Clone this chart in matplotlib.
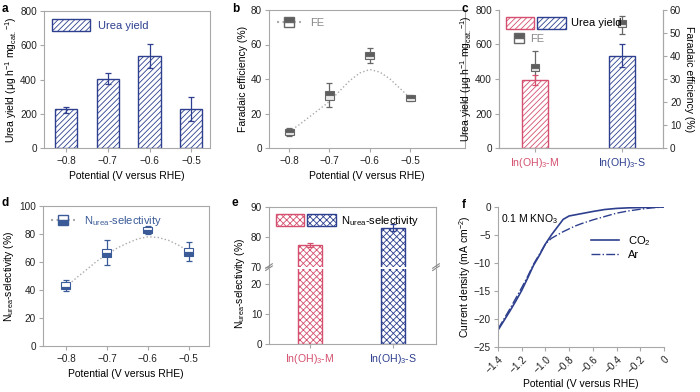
import numpy as np
import matplotlib
matplotlib.use("Agg")
import matplotlib.pyplot as plt
from matplotlib.lines import Line2D
from matplotlib.patches import Patch
from matplotlib.legend_handler import HandlerTuple

plt.rcParams["font.family"] = ["Liberation Sans", "DejaVu Sans"]
plt.rcParams["font.size"] = 7.5
plt.rcParams["xtick.labelsize"] = 7.2
plt.rcParams["ytick.labelsize"] = 7.2
plt.rcParams["mathtext.fontset"] = "custom"
plt.rcParams["mathtext.rm"] = "Liberation Sans"
plt.rcParams["mathtext.default"] = "regular"
plt.rcParams["hatch.linewidth"] = 0.6
plt.rcParams["axes.edgecolor"] = "#a8a8a8"
plt.rcParams["xtick.color"] = "#a8a8a8"
plt.rcParams["ytick.color"] = "#a8a8a8"
plt.rcParams["xtick.labelcolor"] = "#222222"
plt.rcParams["ytick.labelcolor"] = "#222222"
plt.rcParams["xtick.major.size"] = 3
plt.rcParams["ytick.major.size"] = 3
plt.rcParams["xtick.major.pad"] = 2.5
plt.rcParams["ytick.major.pad"] = 2

BLUE = "#2d3f8e"
RED = "#d4506e"
GRAY = "#666666"
DBLUE = "#3b5b98"

# ---- data ----
potentials = [-0.8, -0.7, -0.6, -0.5]
pot_labels = ["\u22120.8", "\u22120.7", "\u22120.6", "\u22120.5"]

# a: urea yield
urea_yield = [225, 405, 535, 228]
urea_err_lo = [20, 30, 70, 73]
urea_err_hi = [17, 35, 70, 72]

# b: Faradaic efficiency box stats
fe_q1 = [7.5, 28, 51.5, 27.2]
fe_med = [9.5, 30.5, 53.5, 29]
fe_q3 = [11.2, 33, 55.5, 30.6]
fe_lo = [7.2, 23.5, 49, 27]
fe_hi = [11.6, 37.5, 57.8, 31]
fe_fit_x = [-0.8, -0.775, -0.75, -0.725, -0.7, -0.675, -0.65, -0.625, -0.6, -0.575, -0.55, -0.525, -0.5]
fe_fit_y = [9.5, 13.5, 18, 22.5, 27, 33, 39, 43.5, 45.5, 44, 40, 34.5, 29]

# c: sample comparison
samples = ["In(OH)$_3$-M", "In(OH)$_3$-S"]
sample_colors = [RED, BLUE]
sample_yield = [395, 535]
sample_yield_err = [30, 68]
samp_fe_q1 = [33.5, 52.5]
samp_fe_med = [35, 54]
samp_fe_q3 = [36.5, 55.5]
samp_fe_lo = [27, 49.5]
samp_fe_hi = [42, 57.5]

# d: N_urea selectivity box stats
sel_q1 = [40.5, 63.5, 80.5, 64.5]
sel_med = [42.5, 66.5, 82.8, 67.3]
sel_q3 = [45.5, 69.5, 85.3, 70.3]
sel_lo = [39.4, 57.8, 79.7, 60.6]
sel_hi = [47, 75.7, 85.7, 74.5]
sel_fit_x = [-0.8, -0.775, -0.75, -0.725, -0.7, -0.675, -0.65, -0.625, -0.6, -0.575, -0.55, -0.525, -0.5]
sel_fit_y = [42.5, 48.5, 54.5, 60.5, 65.5, 70, 73.5, 76.5, 78, 77.5, 75.5, 72, 67.5]

# e: selectivity of samples
samp_sel = [77.3, 83.1]
samp_sel_err = [0.7, 1.2]

# f: LSV
lsv_x = [-1.4, -1.35, -1.3, -1.25, -1.2, -1.15, -1.1, -1.05, -1.0, -0.95, -0.9, -0.85,
         -0.8, -0.75, -0.7, -0.6, -0.5, -0.4, -0.3, -0.2, -0.1, 0.0]
lsv_co2 = [-22.0, -20.3, -18.6, -16.8, -14.9, -12.7, -10.4, -8.6, -6.6, -5.0, -3.6, -2.2,
           -1.6, -1.4, -1.2, -0.8, -0.45, -0.25, -0.15, -0.1, -0.05, 0.0]
lsv_ar = [-21.8, -20.0, -18.2, -16.3, -14.4, -12.4, -10.2, -8.4, -6.6, -5.6, -5.0, -4.4,
          -3.9, -3.4, -3.0, -2.3, -1.7, -1.1, -0.7, -0.4, -0.15, 0.0]


def add_boxes(ax, xs, q1, med, q3, lo, hi, w, top_col, bot_col, edge, z=3):
    xs = np.asarray(xs, dtype=float)
    q1, med, q3 = map(np.asarray, (q1, med, q3))
    ax.errorbar(xs, med, yerr=[med - np.asarray(lo), np.asarray(hi) - med], fmt="none",
                ecolor=edge, elinewidth=0.9, capsize=2, capthick=0.9, zorder=z)
    ax.bar(xs, q3 - med, bottom=med, width=w, color=top_col, edgecolor=edge, linewidth=0.8, zorder=z + 1)
    ax.bar(xs, med - q1, bottom=q1, width=w, color=bot_col, edgecolor=edge, linewidth=0.8, zorder=z + 1)


fig = plt.figure(figsize=(7, 3.92), dpi=100)
W, H = 700, 392


def add_ax(x0, y0, x1, y1):
    return fig.add_axes([x0 / W, 1 - y1 / H, (x1 - x0) / W, (y1 - y0) / H])


# ---- a ----
ax = add_ax(44, 11, 210, 148)
ax.bar(potentials, urea_yield, width=0.053, facecolor="white", edgecolor=BLUE, hatch="//////",
       linewidth=1.0, label="Urea yield", zorder=2)
ax.errorbar(potentials, urea_yield, yerr=[urea_err_lo, urea_err_hi], fmt="none", ecolor=BLUE,
            elinewidth=0.9, capsize=2, capthick=0.9, zorder=3)
ax.set_xlim(-0.853, -0.455)
ax.set_ylim(0, 800)
ax.set_xticks(potentials)
ax.set_xticklabels(pot_labels)
ax.set_yticks([0, 200, 400, 600, 800])
ax.set_xlabel("Potential (V versus RHE)", labelpad=4)
ax.set_ylabel("Urea yield (\u03bcg h$^{-1}$ mg$_{cat.}$$^{-1}$)", labelpad=1)
leg = ax.legend(loc="upper left", frameon=False, handlelength=3.4, handleheight=1.3,
                borderaxespad=0.3, fontsize=8)
for t in leg.get_texts():
    t.set_color(BLUE)

# ---- b ----
ax = add_ax(269, 10, 465, 148)
ax.plot(fe_fit_x, fe_fit_y, ls=":", color="#aaaaaa", lw=1.0, zorder=1)
add_boxes(ax, potentials, fe_q1, fe_med, fe_q3, fe_lo, fe_hi, 0.022, "#5e5e5e", "#e8e8e8", GRAY)
ax.set_xlim(-0.85, -0.364)
ax.set_ylim(0, 80)
ax.set_xticks(potentials)
ax.set_xticklabels(pot_labels)
ax.set_yticks([0, 20, 40, 60, 80])
ax.set_xlabel("Potential (V versus RHE)", labelpad=4)
ax.set_ylabel("Faradaic efficiency (%)", labelpad=2)
h = Line2D([], [], ls=":", color="#aaaaaa", marker="s", markersize=7, fillstyle="top",
           markerfacecolor="#5e5e5e", markerfacecoloralt="white", markeredgecolor=GRAY)
leg = ax.legend([h], ["FE"], loc="upper left", frameon=False, handlelength=2.2,
                borderaxespad=0.3, fontsize=8)
for t in leg.get_texts():
    t.set_color("#888888")

# ---- c ----
ax = add_ax(499, 10, 663, 148)
xs = np.arange(len(samples))
ax.bar(xs, sample_yield, width=0.29, facecolor="white", edgecolor=sample_colors,
       hatch="//////", linewidth=1.0, zorder=2)
for xi, yv, e, c in zip(xs, sample_yield, sample_yield_err, sample_colors):
    ax.errorbar(xi, yv, yerr=e, fmt="none", ecolor=c, elinewidth=0.9, capsize=2, capthick=0.9, zorder=3)
ax.set_xlim(-0.414, 1.47)
ax.set_ylim(0, 800)
ax.set_yticks([0, 200, 400, 600, 800])
ax.set_xticks(xs)
ax.set_xticklabels(samples, fontsize=7.6)
for lab, c in zip(ax.get_xticklabels(), sample_colors):
    lab.set_color(c)
ax.set_ylabel("Urea yield (\u03bcg h$^{-1}$ mg$_{cat.}$$^{-1}$)", labelpad=1)
ax.spines["top"].set_visible(False)
ax2 = ax.twinx()
add_boxes(ax2, xs, samp_fe_q1, samp_fe_med, samp_fe_q3, samp_fe_lo, samp_fe_hi, 0.09,
          "#5e5e5e", "#e8e8e8", GRAY)
ax2.set_ylim(0, 60)
ax2.set_yticks([0, 10, 20, 30, 40, 50, 60])
ax2.set_ylabel("Faradaic efficiency (%)", rotation=270, labelpad=9)
ax2.spines["top"].set_visible(False)
ax.set_zorder(ax2.get_zorder() + 1)
ax.patch.set_visible(False)
hp = (Patch(facecolor="white", edgecolor=RED, hatch="//////"),
      Patch(facecolor="white", edgecolor=BLUE, hatch="//////"))
leg1 = ax.legend([hp], ["Urea yield"], loc="upper left", frameon=False,
                 handler_map={tuple: HandlerTuple(ndivide=None, pad=0.3)},
                 handlelength=5.4, handleheight=1.3, borderaxespad=0.2,
                 handletextpad=0.5, fontsize=8)
ax.add_artist(leg1)
hb = Line2D([], [], ls="none", marker="s", markersize=7, fillstyle="top",
            markerfacecolor="#5e5e5e", markerfacecoloralt="white", markeredgecolor=GRAY)
leg2 = ax.legend([hb], ["FE"], loc="upper left", bbox_to_anchor=(0.04, 0.875), frameon=False,
                 handlelength=1.2, handletextpad=0.4, borderaxespad=0.2, fontsize=8)
for t in leg2.get_texts():
    t.set_color("#888888")

# ---- d ----
ax = add_ax(43, 206, 209, 346)
ax.plot(sel_fit_x, sel_fit_y, ls=":", color="#aaaaaa", lw=1.0, zorder=1)
add_boxes(ax, potentials, sel_q1, sel_med, sel_q3, sel_lo, sel_hi, 0.022, "white", DBLUE, DBLUE)
ax.set_xlim(-0.856, -0.451)
ax.set_ylim(0, 100)
ax.set_xticks(potentials)
ax.set_xticklabels(pot_labels)
ax.set_yticks([0, 20, 40, 60, 80, 100])
ax.set_xlabel("Potential (V versus RHE)", labelpad=4)
ax.set_ylabel("N$_{urea}$-selectivity (%)", labelpad=2)
h = Line2D([], [], ls=":", color="#aaaaaa", marker="s", markersize=7, fillstyle="bottom",
           markerfacecolor=DBLUE, markerfacecoloralt="white", markeredgecolor=DBLUE)
leg = ax.legend([h], ["N$_{urea}$-selectivity"], loc="upper left", frameon=False,
                handlelength=2.2, borderaxespad=0.3, fontsize=8)
for t in leg.get_texts():
    t.set_color(DBLUE)

# ---- e (broken axis) ----
axt = add_ax(269, 207, 436, 267)
axb = add_ax(269, 269, 436, 344)
for a in (axt, axb):
    a.bar(xs, samp_sel, width=0.29, facecolor="white", edgecolor=sample_colors,
          hatch="xxxxx", linewidth=1.0, zorder=2)
    for xi, yv, e, c in zip(xs, samp_sel, samp_sel_err, sample_colors):
        a.errorbar(xi, yv, yerr=e, fmt="none", ecolor=c, elinewidth=0.9, capsize=2,
                   capthick=0.9, zorder=3)
    a.set_xlim(-0.494, 1.518)
axt.set_ylim(70, 90)
axt.set_yticks([70, 80, 90])
axt.spines["bottom"].set_visible(False)
axt.tick_params(axis="x", bottom=False, labelbottom=False)
axb.set_ylim(0, 25)
axb.set_yticks([0, 10, 20])
axb.spines["top"].set_visible(False)
axb.set_xticks(xs)
axb.set_xticklabels(samples, fontsize=7.6)
for lab, c in zip(axb.get_xticklabels(), sample_colors):
    lab.set_color(c)
fig.text(240 / W, 1 - 283 / H, "N$_{urea}$-selectivity (%)", rotation=90, ha="center",
         va="center")
for xa in (0, 1):
    axb.plot([xa - 0.02, xa + 0.02], [0.98, 1.04], transform=axb.transAxes,
             color="#888888", lw=0.8, clip_on=False)
    axb.plot([xa - 0.02, xa + 0.02], [1.01, 1.07], transform=axb.transAxes,
             color="#888888", lw=0.8, clip_on=False)
hp = (Patch(facecolor="white", edgecolor=RED, hatch="xxxxx"),
      Patch(facecolor="white", edgecolor=BLUE, hatch="xxxxx"))
axt.legend([hp], ["N$_{urea}$-selectivity"], loc="upper left", frameon=False,
           handler_map={tuple: HandlerTuple(ndivide=None, pad=0.3)},
           handlelength=5.4, handleheight=1.3, borderaxespad=0.2, handletextpad=0.5,
           fontsize=8)

# ---- f ----
ax = add_ax(498, 207, 664, 347)
ax.plot(lsv_x, lsv_co2, color=BLUE, lw=1.2, label="CO$_2$")
ax.plot(lsv_x, lsv_ar, color=BLUE, lw=1.0, ls="-.", label="Ar")
ax.set_xlim(-1.4, 0)
ax.set_ylim(-25, 0)
ax.set_xticks([-1.4, -1.2, -1.0, -0.8, -0.6, -0.4, -0.2, 0])
ax.set_xticklabels(["\u22121.4", "\u22121.2", "\u22121.0", "\u22120.8", "\u22120.6",
                    "\u22120.4", "\u22120.2", "0"], rotation=45, ha="right", rotation_mode="anchor")
ax.set_yticks([-25, -20, -15, -10, -5, 0])
ax.set_yticklabels(["\u221225", "\u221220", "\u221215", "\u221210", "\u22125", "0"])
ax.spines["top"].set_visible(False)
ax.spines["right"].set_visible(False)
ax.set_xlabel("Potential (V versus RHE)", labelpad=2)
ax.set_ylabel("Current density (mA cm$^{-2}$)", labelpad=1)
ax.text(0.02, 0.96, "0.1 M KNO$_3$", transform=ax.transAxes, va="top", ha="left")
ax.legend(loc="upper right", bbox_to_anchor=(0.98, 0.88), frameon=False, handlelength=2.5,
          fontsize=8, labelspacing=0.2)

# panel letters
for lab, (px, py) in zip("abcdef", [(2, 9), (232, 9), (462, 9), (2, 203), (232, 203), (462, 205)]):
    fig.text(px / W, 1 - py / H, lab, fontweight="bold", fontsize=8.5, va="center", ha="left")

fig.savefig("out.png", dpi=100)
